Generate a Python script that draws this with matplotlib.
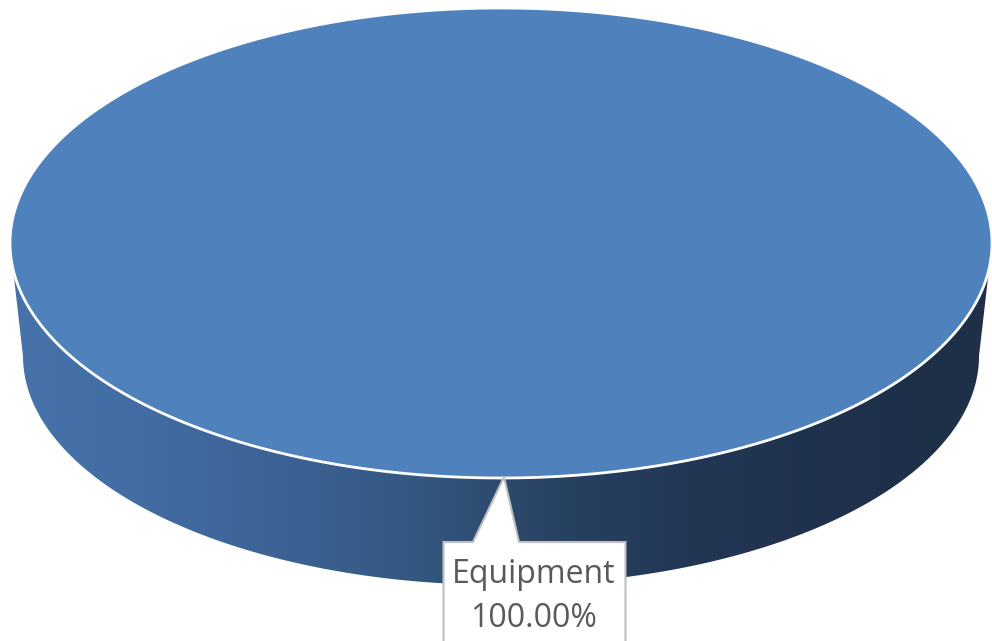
import numpy as np
import matplotlib
matplotlib.use("Agg")
import matplotlib.pyplot as plt
from matplotlib.patches import Polygon
from matplotlib.colors import LinearSegmentedColormap

# ---- data ----
categories = ["Equipment"]
values = [100.0]
colors_top = ["#4F81BD"]

# ---- layout (pixel space) ----
W, H = 992, 641
cx, cy = 501.0, 243.0          # top ellipse centre
rx, ry = 491.0, 235.0          # top ellipse radii
bcx, bcy = 501.0, 356.0        # bottom ellipse centre (perspective)
brx, bry = 478.0, 229.0        # bottom ellipse radii

fig = plt.figure(figsize=(W / 100, H / 100), dpi=100)
ax = fig.add_axes([0, 0, 1, 1])
ax.set_xlim(0, W)
ax.set_ylim(H, 0)
ax.axis("off")

def top_pt(t):
    return cx + rx * np.cos(t), cy + ry * np.sin(t)

def bot_pt(t):
    return bcx + brx * np.cos(t), bcy + bry * np.sin(t)

# ---- side (front half) with horizontal gradient ----
tf = np.linspace(0, np.pi, 400)
bx, by = bot_pt(tf)
tx, ty = top_pt(tf[::-1])
side_verts = np.column_stack([np.concatenate([bx, tx]), np.concatenate([by, ty])])
side_patch = Polygon(side_verts, closed=True, facecolor="none", edgecolor="none")
ax.add_patch(side_patch)

stops = [(0.0, "#4773AB"), (0.14, "#426CA2"), (0.30, "#3B6192"), (0.42, "#34577F"),
         (0.50, "#2D4A6E"), (0.58, "#27405F"), (0.70, "#223654"), (0.85, "#1F314B"),
         (1.0, "#1E2F47")]
cmap = LinearSegmentedColormap.from_list("side", stops)
grad = np.linspace(0, 1, 512).reshape(1, -1)
im = ax.imshow(grad, cmap=cmap, aspect="auto", extent=[10, 992, 600, 230],
               interpolation="bilinear", zorder=1)
im.set_clip_path(side_patch)

# ---- top face slices ----
total = float(sum(values))
start = np.pi / 2 - np.pi  # so that a single slice's middle sits at the front
angle = start
mids = []
for val, col in zip(values, colors_top):
    frac = val / total
    a0, a1 = angle, angle + 2 * np.pi * frac
    ts = np.linspace(a0, a1, 500)
    px, py = top_pt(ts)
    if frac >= 0.9999:
        verts = np.column_stack([px, py])
    else:
        verts = np.vstack([[cx, cy], np.column_stack([px, py])])
    ax.add_patch(Polygon(verts, closed=True, facecolor=col, edgecolor="white",
                         linewidth=2.0, zorder=2))
    mids.append((a0 + a1) / 2)
    angle = a1

# ---- data label with callout ----
for cat, val, m in zip(categories, values, mids):
    pct = 100 * val / total
    ax_, ay_ = top_pt(m)
    ax_ += 3
    left, right, top_y, bottom_y = 443.5, 625.5, 542.0, 660.0
    box = [(left, bottom_y), (left, top_y), (473, top_y), (ax_, ay_ - 1),
           (519, top_y), (right, top_y), (right, bottom_y)]
    ax.add_patch(Polygon(box, closed=True, facecolor="white", edgecolor="#BFBFBF",
                         linewidth=1.5, zorder=3, joinstyle="miter"))
    tx_c = (left + right) / 2 - 0.5
    ax.text(tx_c, 582.7, cat, ha="center", va="baseline", fontsize=23,
            family="Open Sans", color="#595959", zorder=4)
    ax.text(tx_c, 627.3, f"{pct:.2f}%", ha="center", va="baseline", fontsize=23,
            family="Open Sans", color="#595959", zorder=4)

fig.savefig("out.png", dpi=100, facecolor="white")
